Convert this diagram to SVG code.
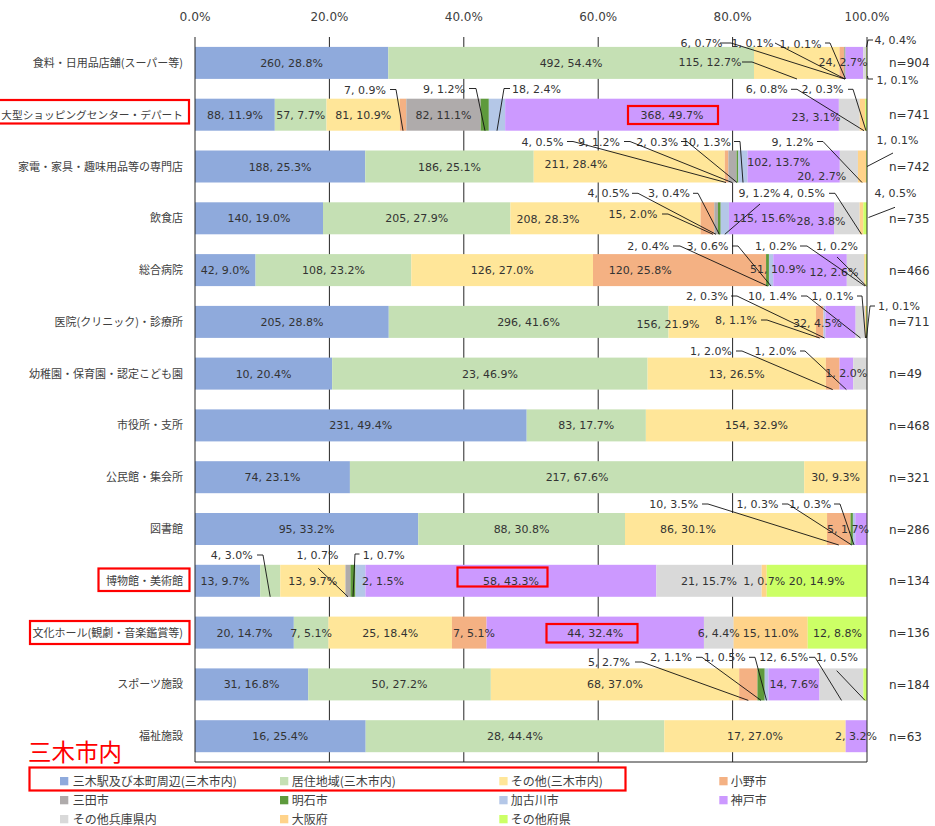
<svg xmlns="http://www.w3.org/2000/svg" width="935" height="826" viewBox="0 0 935 826">
<style>
.c1{fill:#8FAADC}.c2{fill:#C5E0B4}.c3{fill:#FFE699}.c4{fill:#F4B183}.c5{fill:#AFABAB}.c6{fill:#5E9A3C}.c7{fill:#B4C7E7}.c8{fill:#CC99FF}.c9{fill:#D9D9D9}.c10{fill:#FFD38A}.c11{fill:#CCFF66}
text{font-family:"DejaVu Sans","Noto Sans CJK JP",sans-serif;fill:#333}
.d{font-size:11px;text-anchor:middle}
.ax{font-size:12px;text-anchor:middle;fill:#404040}
.n{font-size:12px}
.cat{font-family:"Noto Sans CJK JP",sans-serif;font-size:11px;text-anchor:end;fill:#404040}
.lg{font-family:"Noto Sans CJK JP",sans-serif;font-size:12px;fill:#404040}
.grid{stroke:#262626;stroke-width:1;fill:none}
.ld polyline{fill:none;stroke:#111;stroke-width:0.9}
.red{fill:none;stroke:#FF0000;stroke-width:2.2}
</style>
<rect width="935" height="826" fill="#fff"/>
<g id="axis-labels">
<text class="ax" x="195" y="20.5" textLength="31" lengthAdjust="spacingAndGlyphs">0.0%</text>
<text class="ax" x="329.4" y="20.5" textLength="38" lengthAdjust="spacingAndGlyphs">20.0%</text>
<text class="ax" x="463.8" y="20.5" textLength="38" lengthAdjust="spacingAndGlyphs">40.0%</text>
<text class="ax" x="598.2" y="20.5" textLength="38" lengthAdjust="spacingAndGlyphs">60.0%</text>
<text class="ax" x="732.6" y="20.5" textLength="38" lengthAdjust="spacingAndGlyphs">80.0%</text>
<text class="ax" x="867" y="20.5" textLength="45" lengthAdjust="spacingAndGlyphs">100.0%</text>
</g>
<g id="gridlines">
<path class="grid" d="M329.4 37V762M463.8 37V762M598.2 37V762M732.6 37V762"/>
</g>
<g id="row1">
<rect class="c1" x="195" y="46.9" width="193.27" height="32"/><rect class="c2" x="388.27" y="46.9" width="365.73" height="32"/><rect class="c3" x="754" y="46.9" width="85.49" height="32"/><rect class="c4" x="839.49" y="46.9" width="4.46" height="32"/><rect class="c5" x="843.95" y="46.9" width="0.74" height="32"/><rect class="c6" x="844.69" y="46.9" width="0.74" height="32"/><rect class="c8" x="845.43" y="46.9" width="17.84" height="32"/><rect class="c9" x="863.27" y="46.9" width="2.97" height="32"/><rect class="c11" x="866.24" y="46.9" width="0.76" height="32"/>
<text class="cat" x="183" y="66.9">食料・日用品店舗(スーパー等)</text>
<text class="d" x="291.6" y="66.9">260, 28.8%</text><text class="d" x="571.1" y="66.9">492, 54.4%</text><text class="d" x="710" y="66">115, 12.7%</text><text class="d" x="843" y="66">24, 2.7%</text>
<text class="d" x="701.5" y="47">6, 0.7%</text><text class="d" x="752.5" y="47">1, 0.1%</text><text class="d" x="800.5" y="47.5">1, 0.1%</text><text class="d" x="895.5" y="43.5">4, 0.4%</text><text class="d" x="897.5" y="83.5">1, 0.1%</text>
<text class="n" x="889" y="67.4">n=904</text>
</g>
<g id="row2">
<rect class="c1" x="195" y="98.7" width="79.81" height="32"/><rect class="c2" x="274.81" y="98.7" width="51.69" height="32"/><rect class="c3" x="326.5" y="98.7" width="73.46" height="32"/><rect class="c4" x="399.96" y="98.7" width="6.35" height="32"/><rect class="c5" x="406.31" y="98.7" width="74.36" height="32"/><rect class="c6" x="480.67" y="98.7" width="8.16" height="32"/><rect class="c7" x="488.83" y="98.7" width="16.32" height="32"/><rect class="c8" x="505.15" y="98.7" width="333.73" height="32"/><rect class="c9" x="838.88" y="98.7" width="20.86" height="32"/><rect class="c10" x="859.74" y="98.7" width="5.44" height="32"/><rect class="c11" x="865.18" y="98.7" width="1.82" height="32"/>
<text class="cat" x="183" y="118.5" style="font-size:10.7px">大型ショッピングセンター・デパート</text>
<text class="d" x="234.9" y="118.7">88, 11.9%</text><text class="d" x="300.7" y="118.7">57, 7.7%</text><text class="d" x="363.2" y="118.7">81, 10.9%</text><text class="d" x="443.5" y="118.7">82, 11.1%</text><text class="d" x="672" y="119">368, 49.7%</text><text class="d" x="816" y="120.5">23, 3.1%</text>
<text class="d" x="365" y="94">7, 0.9%</text><text class="d" x="444" y="92.5">9, 1.2%</text><text class="d" x="536.5" y="92.5">18, 2.4%</text><text class="d" x="766.7" y="93.3">6, 0.8%</text><text class="d" x="822.5" y="93.3">2, 0.3%</text>
<text class="n" x="889" y="119.2">n=741</text>
</g>
<g id="row3">
<rect class="c1" x="195" y="150.5" width="170.26" height="32"/><rect class="c2" x="365.26" y="150.5" width="168.45" height="32"/><rect class="c3" x="533.71" y="150.5" width="191.09" height="32"/><rect class="c4" x="724.8" y="150.5" width="3.62" height="32"/><rect class="c5" x="728.42" y="150.5" width="8.15" height="32"/><rect class="c6" x="736.57" y="150.5" width="1.81" height="32"/><rect class="c7" x="738.38" y="150.5" width="9.06" height="32"/><rect class="c8" x="747.44" y="150.5" width="92.38" height="32"/><rect class="c9" x="839.82" y="150.5" width="18.11" height="32"/><rect class="c10" x="857.93" y="150.5" width="8.15" height="32"/><rect class="c11" x="866.08" y="150.5" width="0.92" height="32"/>
<text class="cat" x="183" y="170.5">家電・家具・趣味用品等の専門店</text>
<text class="d" x="280.1" y="170.5">188, 25.3%</text><text class="d" x="449.5" y="170.5">186, 25.1%</text><text class="d" x="576" y="167.5">211, 28.4%</text><text class="d" x="778.7" y="165.7">102, 13.7%</text><text class="d" x="821.7" y="180">20, 2.7%</text>
<text class="d" x="542.5" y="145.7">4, 0.5%</text><text class="d" x="599" y="145.7">9, 1.2%</text><text class="d" x="657.3" y="145.7">2, 0.3%</text><text class="d" x="706.5" y="145.7">10, 1.3%</text><text class="d" x="792.5" y="145.7">9, 1.2%</text><text class="d" x="897.5" y="144">1, 0.1%</text>
<text class="n" x="889" y="171">n=742</text>
</g>
<g id="row4">
<rect class="c1" x="195" y="202.3" width="128" height="32"/><rect class="c2" x="323" y="202.3" width="187.43" height="32"/><rect class="c3" x="510.43" y="202.3" width="190.17" height="32"/><rect class="c4" x="700.6" y="202.3" width="13.71" height="32"/><rect class="c5" x="714.31" y="202.3" width="3.66" height="32"/><rect class="c6" x="717.97" y="202.3" width="2.74" height="32"/><rect class="c7" x="720.71" y="202.3" width="8.23" height="32"/><rect class="c8" x="728.94" y="202.3" width="105.14" height="32"/><rect class="c9" x="834.08" y="202.3" width="25.6" height="32"/><rect class="c10" x="859.68" y="202.3" width="3.66" height="32"/><rect class="c11" x="863.34" y="202.3" width="3.66" height="32"/>
<text class="cat" x="183" y="222.3">飲食店</text>
<text class="d" x="259" y="222.3">140, 19.0%</text><text class="d" x="416.7" y="222.3">205, 27.9%</text><text class="d" x="548" y="223.3">208, 28.3%</text><text class="d" x="633" y="218">15, 2.0%</text><text class="d" x="764.5" y="222.3">115, 15.6%</text><text class="d" x="821" y="224.5">28, 3.8%</text>
<text class="d" x="608.5" y="197.3">4, 0.5%</text><text class="d" x="669" y="197.3">3, 0.4%</text><text class="d" x="759.5" y="197.3">9, 1.2%</text><text class="d" x="804" y="197.3">4, 0.5%</text><text class="d" x="895.5" y="196.7">4, 0.5%</text>
<text class="n" x="889" y="222.8">n=735</text>
</g>
<g id="row5">
<rect class="c1" x="195" y="254.1" width="60.57" height="32"/><rect class="c2" x="255.57" y="254.1" width="155.74" height="32"/><rect class="c3" x="411.31" y="254.1" width="181.7" height="32"/><rect class="c4" x="593.01" y="254.1" width="173.05" height="32"/><rect class="c6" x="766.06" y="254.1" width="2.88" height="32"/><rect class="c7" x="768.94" y="254.1" width="4.33" height="32"/><rect class="c8" x="773.27" y="254.1" width="73.55" height="32"/><rect class="c9" x="846.82" y="254.1" width="17.3" height="32"/><rect class="c10" x="864.12" y="254.1" width="1.44" height="32"/><rect class="c11" x="865.56" y="254.1" width="1.44" height="32"/>
<text class="cat" x="183" y="274.1">総合病院</text>
<text class="d" x="225.3" y="274.1">42, 9.0%</text><text class="d" x="333.4" y="274.1">108, 23.2%</text><text class="d" x="502.2" y="274">126, 27.0%</text><text class="d" x="640.3" y="274">120, 25.8%</text><text class="d" x="778" y="273.3">51, 10.9%</text><text class="d" x="834" y="275.7">12, 2.6%</text>
<text class="d" x="648.3" y="250">2, 0.4%</text><text class="d" x="707.5" y="250">3, 0.6%</text><text class="d" x="776" y="250">1, 0.2%</text><text class="d" x="837" y="250">1, 0.2%</text>
<text class="n" x="889" y="274.6">n=466</text>
</g>
<g id="row6">
<rect class="c1" x="195" y="305.9" width="193.76" height="32"/><rect class="c2" x="388.76" y="305.9" width="279.76" height="32"/><rect class="c3" x="668.52" y="305.9" width="147.44" height="32"/><rect class="c4" x="815.96" y="305.9" width="7.56" height="32"/><rect class="c7" x="823.52" y="305.9" width="1.89" height="32"/><rect class="c8" x="825.41" y="305.9" width="30.24" height="32"/><rect class="c9" x="855.65" y="305.9" width="9.45" height="32"/><rect class="c10" x="865.1" y="305.9" width="0.95" height="32"/><rect class="c11" x="866.05" y="305.9" width="0.95" height="32"/>
<text class="cat" x="183" y="325.9">医院(クリニック)・診療所</text>
<text class="d" x="291.9" y="325.9">205, 28.8%</text><text class="d" x="528.6" y="325.9">296, 41.6%</text><text class="d" x="668" y="328">156, 21.9%</text><text class="d" x="736" y="324">8, 1.1%</text><text class="d" x="817.5" y="326.7">32, 4.5%</text>
<text class="d" x="707" y="300">2, 0.3%</text><text class="d" x="772.5" y="300">10, 1.4%</text><text class="d" x="832.5" y="300">1, 0.1%</text><text class="d" x="899" y="310">1, 0.1%</text>
<text class="n" x="889" y="326.4">n=711</text>
</g>
<g id="row7">
<rect class="c1" x="195" y="357.6" width="137.14" height="32"/><rect class="c2" x="332.14" y="357.6" width="315.43" height="32"/><rect class="c3" x="647.57" y="357.6" width="178.29" height="32"/><rect class="c4" x="825.86" y="357.6" width="13.71" height="32"/><rect class="c8" x="839.57" y="357.6" width="13.72" height="32"/><rect class="c9" x="853.29" y="357.6" width="13.71" height="32"/>
<text class="cat" x="183" y="377.6">幼稚園・保育園・認定こども園</text>
<text class="d" x="263.6" y="377.6">10, 20.4%</text><text class="d" x="489.9" y="377.6">23, 46.9%</text><text class="d" x="736.7" y="377.6">13, 26.5%</text><text class="d" x="846.3" y="376.7">1, 2.0%</text>
<text class="d" x="711" y="355">1, 2.0%</text><text class="d" x="775.5" y="355">1, 2.0%</text>
<text class="n" x="889" y="378.1">n=49</text>
</g>
<g id="row8">
<rect class="c1" x="195" y="409.4" width="331.69" height="32"/><rect class="c2" x="526.69" y="409.4" width="119.18" height="32"/><rect class="c3" x="645.87" y="409.4" width="221.13" height="32"/>
<text class="cat" x="183" y="429.4">市役所・支所</text>
<text class="d" x="360.8" y="429.4">231, 49.4%</text><text class="d" x="586.3" y="429.4">83, 17.7%</text><text class="d" x="756.4" y="429.4">154, 32.9%</text>
<text class="n" x="889" y="429.9">n=468</text>
</g>
<g id="row9">
<rect class="c1" x="195" y="461.2" width="154.92" height="32"/><rect class="c2" x="349.92" y="461.2" width="454.28" height="32"/><rect class="c3" x="804.2" y="461.2" width="62.8" height="32"/>
<text class="cat" x="183" y="481.2">公民館・集会所</text>
<text class="d" x="272.5" y="481.2">74, 23.1%</text><text class="d" x="577.1" y="481.2">217, 67.6%</text><text class="d" x="835.6" y="481.2">30, 9.3%</text>
<text class="n" x="889" y="481.7">n=321</text>
</g>
<g id="row10">
<rect class="c1" x="195" y="513" width="223.22" height="32"/><rect class="c2" x="418.22" y="513" width="206.77" height="32"/><rect class="c3" x="624.99" y="513" width="202.07" height="32"/><rect class="c4" x="827.06" y="513" width="23.5" height="32"/><rect class="c6" x="850.56" y="513" width="2.35" height="32"/><rect class="c7" x="852.91" y="513" width="2.35" height="32"/><rect class="c8" x="855.26" y="513" width="11.74" height="32"/>
<text class="cat" x="183" y="533">図書館</text>
<text class="d" x="306.6" y="533">95, 33.2%</text><text class="d" x="521.6" y="533">88, 30.8%</text><text class="d" x="688" y="533.2">86, 30.1%</text><text class="d" x="848" y="533.3">5, 1.7%</text>
<text class="d" x="673.8" y="508">10, 3.5%</text><text class="d" x="757.5" y="508">1, 0.3%</text><text class="d" x="810.3" y="508">1, 0.3%</text>
<text class="n" x="889" y="533.5">n=286</text>
</g>
<g id="row11">
<rect class="c1" x="195" y="564.8" width="65.19" height="32"/><rect class="c2" x="260.19" y="564.8" width="20.06" height="32"/><rect class="c3" x="280.25" y="564.8" width="65.19" height="32"/><rect class="c5" x="345.44" y="564.8" width="5.01" height="32"/><rect class="c6" x="350.45" y="564.8" width="5.01" height="32"/><rect class="c7" x="355.46" y="564.8" width="10.03" height="32"/><rect class="c8" x="365.49" y="564.8" width="290.87" height="32"/><rect class="c9" x="656.36" y="564.8" width="105.31" height="32"/><rect class="c10" x="761.67" y="564.8" width="5.01" height="32"/><rect class="c11" x="766.68" y="564.8" width="100.32" height="32"/>
<text class="cat" x="183" y="584.8">博物館・美術館</text>
<text class="d" x="225" y="584.8">13, 9.7%</text><text class="d" x="312.8" y="584.8">13, 9.7%</text><text class="d" x="383" y="584.8">2, 1.5%</text><text class="d" x="510.9" y="584.8">58, 43.3%</text><text class="d" x="709" y="584.8">21, 15.7%</text><text class="d" x="764.2" y="584.8">1, 0.7%</text><text class="d" x="816.8" y="584.8">20, 14.9%</text>
<text class="d" x="231.7" y="559">4, 3.0%</text><text class="d" x="317.5" y="559">1, 0.7%</text><text class="d" x="383.7" y="559">1, 0.7%</text>
<text class="n" x="889" y="585.3">n=134</text>
</g>
<g id="row12">
<rect class="c1" x="195" y="616.6" width="98.82" height="32"/><rect class="c2" x="293.82" y="616.6" width="34.59" height="32"/><rect class="c3" x="328.41" y="616.6" width="123.53" height="32"/><rect class="c4" x="451.94" y="616.6" width="34.59" height="32"/><rect class="c8" x="486.53" y="616.6" width="217.41" height="32"/><rect class="c9" x="703.94" y="616.6" width="29.65" height="32"/><rect class="c10" x="733.59" y="616.6" width="74.12" height="32"/><rect class="c11" x="807.71" y="616.6" width="59.29" height="32"/>
<text class="cat" x="183" y="636.6">文化ホール(観劇・音楽鑑賞等)</text>
<text class="d" x="244.4" y="636.6">20, 14.7%</text><text class="d" x="311.1" y="636.6">7, 5.1%</text><text class="d" x="390.2" y="636.6">25, 18.4%</text><text class="d" x="474" y="636.6">7, 5.1%</text><text class="d" x="595.2" y="636.6">44, 32.4%</text><text class="d" x="718.8" y="636.6">6, 4.4%</text><text class="d" x="770.7" y="636.6">15, 11.0%</text><text class="d" x="837.4" y="636.6">12, 8.8%</text>
<text class="n" x="889" y="637.1">n=136</text>
</g>
<g id="row13">
<rect class="c1" x="195" y="668.4" width="113.22" height="32"/><rect class="c2" x="308.22" y="668.4" width="182.61" height="32"/><rect class="c3" x="490.83" y="668.4" width="248.35" height="32"/><rect class="c4" x="739.18" y="668.4" width="18.26" height="32"/><rect class="c6" x="757.44" y="668.4" width="7.3" height="32"/><rect class="c7" x="764.74" y="668.4" width="3.65" height="32"/><rect class="c8" x="768.39" y="668.4" width="51.13" height="32"/><rect class="c9" x="819.52" y="668.4" width="43.83" height="32"/><rect class="c11" x="863.35" y="668.4" width="3.65" height="32"/>
<text class="cat" x="183" y="688.4">スポーツ施設</text>
<text class="d" x="251.6" y="688.4">31, 16.8%</text><text class="d" x="399.5" y="688.4">50, 27.2%</text><text class="d" x="615" y="688.4">68, 37.0%</text><text class="d" x="794" y="688.4">14, 7.6%</text>
<text class="d" x="609" y="666">5, 2.7%</text><text class="d" x="671" y="661.3">2, 1.1%</text><text class="d" x="724.7" y="661.3">1, 0.5%</text><text class="d" x="783.7" y="661.3">12, 6.5%</text><text class="d" x="837" y="661.3">1, 0.5%</text>
<text class="n" x="889" y="688.9">n=184</text>
</g>
<g id="row14">
<rect class="c1" x="195" y="720.2" width="170.67" height="32"/><rect class="c2" x="365.67" y="720.2" width="298.67" height="32"/><rect class="c3" x="664.34" y="720.2" width="181.33" height="32"/><rect class="c8" x="845.67" y="720.2" width="21.33" height="32"/>
<text class="cat" x="183" y="740.2">福祉施設</text>
<text class="d" x="280.3" y="740.2">16, 25.4%</text><text class="d" x="515" y="740.2">28, 44.4%</text><text class="d" x="755" y="740.2">17, 27.0%</text><text class="d" x="856" y="740.2">2, 3.2%</text>
<text class="n" x="889" y="740.7">n=63</text>
</g>
<g id="frame">
<path class="grid" d="M195 37V762H867V37"/>
</g>
<g id="connectors" class="ld">
<polyline points="742,62 752,62 797,79"/>
<polyline points="720,43 731,43 845,79"/>
<polyline points="775,43 845,79"/>
<polyline points="825,43 830,43 845.5,79"/>
<polyline points="873,40 868,40 866.5,47"/>
<polyline points="873,79 868,79 867.5,76"/>
<polyline points="390,89.5 396,89.5 403,130.7"/>
<polyline points="469,88.5 476,88.5 485,130.7"/>
<polyline points="510,88.5 504,88.5 497,130.7"/>
<polyline points="791,89.3 797,89.3 864,130.7"/>
<polyline points="848,89.3 853,89.3 866,130.7"/>
<polyline points="567,141.5 573,141.5 726,182.5"/>
<polyline points="624,141.5 630,141.5 732,182.5"/>
<polyline points="681,141.5 687,141.5 737,182.5"/>
<polyline points="734,141.5 740,141.5 743,182.5"/>
<polyline points="817,141.5 823,141.5 862,182.5"/>
<polyline points="893,153 867,166.5"/>
<polyline points="632,193.3 638,193.3 716,234.3"/>
<polyline points="693,193.3 698,193.3 719.3,234.3"/>
<polyline points="760,204 724.8,234.3"/>
<polyline points="829,193.3 835,193.3 861.5,234.3"/>
<polyline points="895,207.3 868.5,217.5"/>
<polyline points="662,214 668,214 713,234.3"/>
<polyline points="673,246 680,246 767.5,286"/>
<polyline points="732,246 738,246 771,286"/>
<polyline points="800,246 807,246 865,286"/>
<polyline points="837,257 866.3,286"/>
<polyline points="731,296 737,296 824.5,338"/>
<polyline points="801,296 807,296 860.5,338"/>
<polyline points="857,296 862,296 865.5,338"/>
<polyline points="875,306 870,306 866.5,338"/>
<polyline points="761,320 767,320 819.7,338"/>
<polyline points="736,351 742,351 832.7,389.6"/>
<polyline points="800,351 805,351 846.4,389.6"/>
<polyline points="702,504 708,504 838.8,545"/>
<polyline points="782,504 788,504 851.7,545"/>
<polyline points="834,504 840,504 854,545"/>
<polyline points="257,555 263,555 270.2,596.8"/>
<polyline points="318.3,568.3 348,596.8"/>
<polyline points="359.5,554 355,554 353,596.8"/>
<polyline points="635,662 642,662 748.3,700.4"/>
<polyline points="696,657.3 702,657.3 761,700.4"/>
<polyline points="749,657.3 755,657.3 766.5,700.4"/>
<polyline points="809,657.3 815,657.3 841.5,700.4"/>
<polyline points="836.7,670.7 865,700.4"/>
</g>
<g id="highlights">
<rect class="red" x="-3" y="100" width="192" height="23.5"/>
<rect class="red" x="628" y="106" width="90" height="18"/>
<rect class="red" x="98.5" y="568.5" width="91" height="22.5"/>
<rect class="red" x="457.5" y="567.5" width="90" height="19"/>
<rect class="red" x="30" y="621" width="159.5" height="23"/>
<rect class="red" x="546.5" y="624" width="91" height="18.5"/>
<rect class="red" x="29.5" y="767.5" width="596" height="23"/>
<text x="28" y="761" style="font-family:'Noto Sans CJK JP',sans-serif;font-size:23.5px;fill:#FF0000">三木市内</text>
</g>
<g id="legend">
<rect class="c1" x="60" y="777" width="8.3" height="8.3"/><text class="lg" x="72.7" y="785.5">三木駅及び本町周辺(三木市内)</text>
<rect class="c2" x="280" y="777" width="8.3" height="8.3"/><text class="lg" x="291.7" y="785.5">居住地域(三木市内)</text>
<rect class="c3" x="499.3" y="777" width="8.3" height="8.3"/><text class="lg" x="510.7" y="785.5">その他(三木市内)</text>
<rect class="c4" x="719.3" y="777" width="8.3" height="8.3"/><text class="lg" x="730.7" y="785.5">小野市</text>
<rect class="c5" x="60" y="796" width="8.3" height="8.3"/><text class="lg" x="72.7" y="804.5">三田市</text>
<rect class="c6" x="280" y="796" width="8.3" height="8.3"/><text class="lg" x="291.7" y="804.5">明石市</text>
<rect class="c7" x="499.3" y="796" width="8.3" height="8.3"/><text class="lg" x="510.7" y="804.5">加古川市</text>
<rect class="c8" x="719.3" y="796" width="8.3" height="8.3"/><text class="lg" x="730.7" y="804.5">神戸市</text>
<rect class="c9" x="60" y="815" width="8.3" height="8.3"/><text class="lg" x="72.7" y="823.5">その他兵庫県内</text>
<rect class="c10" x="280" y="815" width="8.3" height="8.3"/><text class="lg" x="291.7" y="823.5">大阪府</text>
<rect class="c11" x="499.3" y="815" width="8.3" height="8.3"/><text class="lg" x="510.7" y="823.5">その他府県</text>
</g>
</svg>
